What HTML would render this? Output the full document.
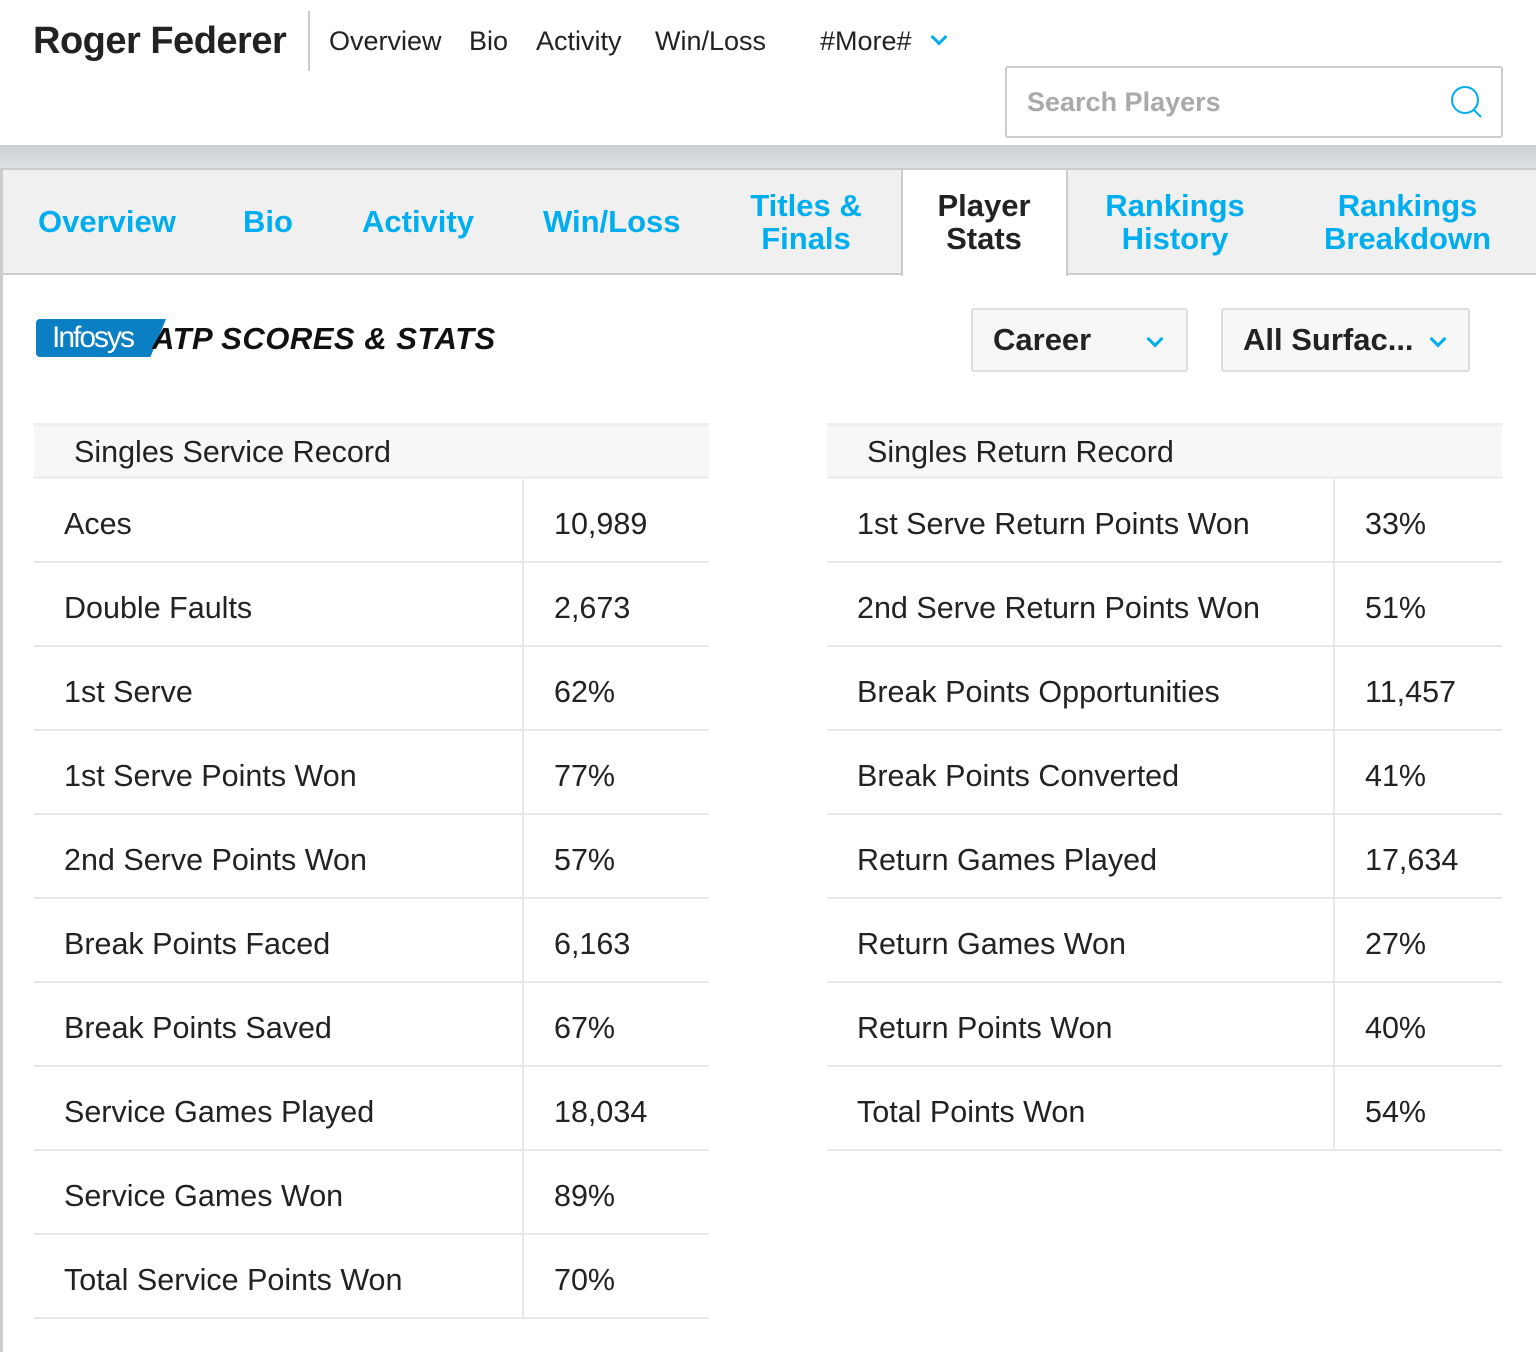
<!DOCTYPE html>
<html><head><meta charset="utf-8"><style>
*{margin:0;padding:0;box-sizing:border-box}
body{width:1536px;height:1352px;background:#fff;font-family:"Liberation Sans",sans-serif;position:relative;overflow:hidden;color:#222}
.abs{position:absolute;white-space:nowrap}
.title{left:33px;top:20px;font-size:38px;font-weight:bold;color:#222;letter-spacing:-0.5px}
.vsep{left:308px;top:11px;width:2px;height:60px;background:#ccc}
.nav{top:26px;font-size:27px;color:#222}
.search{left:1005px;top:66px;width:498px;height:72px;border:2px solid #ccc;border-radius:3px}
.band{left:0;top:145px;width:1536px;height:24px;background:linear-gradient(#c9ced2,#dde2e5)}
.tabs{left:0;top:168px;width:1536px;height:107px;background:#f0f0f0;border-top:2px solid #ccc;border-bottom:2px solid #ccc}
.tab{font-size:31px;font-weight:bold;color:#00aeef;text-align:center;line-height:33px}
.active{left:901px;top:168px;width:167px;height:108px;background:#fff;border:2px solid #ccc;border-bottom:none}
.lborder{left:0;top:168px;width:3px;height:1184px;background:#ccc}
.dd{height:64px;border:2px solid #ddd;border-radius:3px;background:#f7f7f7;font-size:31px;font-weight:bold;color:#222;padding:12px 0 0 20px}
.chev{position:absolute;width:12px;height:12px;border-right:3px solid #00aeef;border-bottom:3px solid #00aeef;transform:rotate(45deg)}
table{position:absolute;border-collapse:collapse;font-size:30.5px;color:#222}
th{background:#f7f7f7;border-top:3px solid #eee;border-bottom:3px solid #eee;height:53px;text-align:left;font-weight:normal;padding-left:40px;padding-top:2px}
td{height:84px;border-bottom:2px solid #e8e8e8;padding-left:30px;padding-top:10px}
td+td{border-left:2px solid #e8e8e8}
</style></head><body>
<div class="abs title">Roger Federer</div>
<div class="abs vsep"></div>
<div class="abs nav" style="left:329px">Overview</div>
<div class="abs nav" style="left:469px">Bio</div>
<div class="abs nav" style="left:536px">Activity</div>
<div class="abs nav" style="left:655px">Win/Loss</div>
<div class="abs nav" style="left:820px">#More#</div>
<div class="chev" style="left:933px;top:31px"></div>
<div class="abs search"></div>
<div class="abs" style="left:1027px;top:87px;font-size:27px;font-weight:bold;color:#aaa">Search Players</div>
<svg class="abs" style="left:1448px;top:84px" width="36" height="36"><circle cx="17" cy="16" r="13" fill="none" stroke="#00aeef" stroke-width="2"/><line x1="26" y1="26" x2="33" y2="33" stroke="#00aeef" stroke-width="2"/></svg>
<div class="abs band"></div>
<div class="abs tabs"></div>
<div class="abs active"></div>
<div class="abs lborder"></div>
<div class="abs tab" style="left:38px;top:205px">Overview</div>
<div class="abs tab" style="left:243px;top:205px">Bio</div>
<div class="abs tab" style="left:362px;top:205px">Activity</div>
<div class="abs tab" style="left:543px;top:205px">Win/Loss</div>
<div class="abs tab" style="left:745px;top:189px;width:122px">Titles &amp;<br>Finals</div>
<div class="abs tab" style="left:920px;top:189px;width:128px;color:#222">Player<br>Stats</div>
<div class="abs tab" style="left:1100px;top:189px;width:150px">Rankings<br>History</div>
<div class="abs tab" style="left:1320px;top:189px;width:175px">Rankings<br>Breakdown</div>
<div class="abs" style="left:36px;top:319px;width:130px;height:38px;background:#0a7fc4;clip-path:polygon(0 0,100% 0,88% 100%,0 100%);border-radius:4px 0 0 4px"></div>
<div class="abs" style="left:52px;top:321px;font-size:30px;color:#fff;letter-spacing:-2px">Infosys</div>
<div class="abs" style="left:152px;top:321px;font-size:31px;font-weight:bold;font-style:italic;color:#111;letter-spacing:0.5px">ATP SCORES &amp; STATS</div>
<div class="abs dd" style="left:971px;top:308px;width:217px">Career</div>
<div class="chev" style="left:1149px;top:333px"></div>
<div class="abs dd" style="left:1221px;top:308px;width:249px">All Surfac...</div>
<div class="chev" style="left:1432px;top:333px"></div>
<table style="left:34px;top:423px;width:675px">
<tr><th colspan="2">Singles Service Record</th></tr>
<tr><td style="width:489px">Aces</td><td>10,989</td></tr>
<tr><td>Double Faults</td><td>2,673</td></tr>
<tr><td>1st Serve</td><td>62%</td></tr>
<tr><td>1st Serve Points Won</td><td>77%</td></tr>
<tr><td>2nd Serve Points Won</td><td>57%</td></tr>
<tr><td>Break Points Faced</td><td>6,163</td></tr>
<tr><td>Break Points Saved</td><td>67%</td></tr>
<tr><td>Service Games Played</td><td>18,034</td></tr>
<tr><td>Service Games Won</td><td>89%</td></tr>
<tr><td>Total Service Points Won</td><td>70%</td></tr>
</table>
<table style="left:827px;top:423px;width:675px">
<tr><th colspan="2">Singles Return Record</th></tr>
<tr><td style="width:507px">1st Serve Return Points Won</td><td>33%</td></tr>
<tr><td>2nd Serve Return Points Won</td><td>51%</td></tr>
<tr><td>Break Points Opportunities</td><td>11,457</td></tr>
<tr><td>Break Points Converted</td><td>41%</td></tr>
<tr><td>Return Games Played</td><td>17,634</td></tr>
<tr><td>Return Games Won</td><td>27%</td></tr>
<tr><td>Return Points Won</td><td>40%</td></tr>
<tr><td>Total Points Won</td><td>54%</td></tr>
</table>
</body></html>
